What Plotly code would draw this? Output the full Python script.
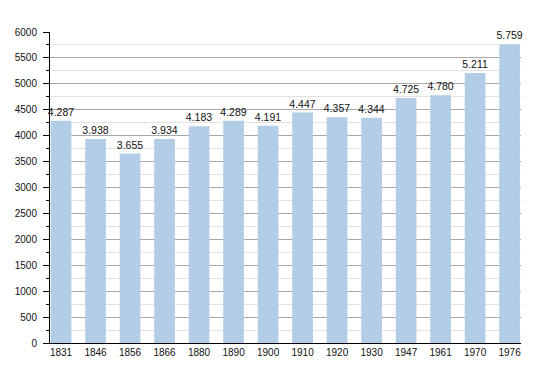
import plotly.graph_objects as go

years = ["1831", "1846", "1856", "1866", "1880", "1890", "1900", "1910",
         "1920", "1930", "1947", "1961", "1970", "1976"]
population = [4287, 3938, 3655, 3934, 4183, 4289, 4191, 4447,
              4357, 4344, 4725, 4780, 5211, 5759]
labels = [f"{v:,}".replace(",", ".") for v in population]

fig = go.Figure(go.Bar(
    x=years, y=population, text=labels, textposition="outside",
    constraintext="none",
    marker=dict(color="#b3cde6", line=dict(width=0)),
    width=0.6, cliponaxis=False,
    textfont=dict(family="Liberation Sans, Arial", size=10.5, color="#111"),
))

fig.update_layout(
    width=550, height=373,
    margin=dict(l=50, r=29, t=32, b=30, autoexpand=False),
    plot_bgcolor="white", paper_bgcolor="white",
    showlegend=False,
    font=dict(family="Liberation Sans, Arial", size=10, color="#111"),
    xaxis=dict(type="category", range=[-0.32, 13.33], showgrid=False,
               showline=True, linecolor="black", linewidth=1, ticks="",
               tickfont=dict(size=10), automargin=False),
    yaxis=dict(range=[0, 6000], dtick=500, showgrid=True, gridcolor="#a8a8a8",
               gridwidth=1, showline=True, linecolor="black", linewidth=1,
               ticks="outside", ticklen=6, tickcolor="black", zeroline=False,
               tickfont=dict(size=10), automargin=False, ticklabelstandoff=4,
               minor=dict(dtick=250, showgrid=True, gridcolor="#e2e2e2",
                          ticks="outside", ticklen=3, tickcolor="black")),
    bargap=0.4,
)

fig.write_html("out.html", config={"displayModeBar": False},
               post_script="document.body.style.margin='0';document.body.style.overflow='hidden';")
